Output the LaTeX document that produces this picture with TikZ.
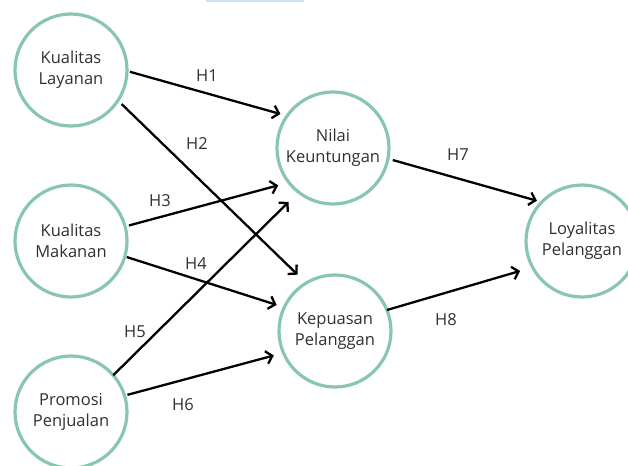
\documentclass[tikz,border=0pt]{standalone}
\usepackage{fontspec}
\setmainfont{Open Sans}
\usetikzlibrary{arrows.meta}
\definecolor{ring}{RGB}{137,199,173}
\definecolor{txt}{RGB}{48,48,48}
\definecolor{topbar}{RGB}{207,226,240}
\tikzset{
  var/.style={circle, draw=ring, line width=3.2pt, minimum size=112pt, inner sep=0pt, outer sep=0pt,
    align=center, text=txt, font=\fontsize{16.5pt}{21pt}\selectfont},
  arr/.style={line width=2.3pt, -{Straight Barb[length=6pt,width=13pt]}},
  hl/.style={text=txt, font=\fontsize{16.5pt}{20pt}\selectfont, inner sep=0pt}
}
\begin{document}
\begin{tikzpicture}[x=1pt,y=-1pt]
\useasboundingbox (0,0) rectangle (628,465);
\clip (0,0) rectangle (628,465);
\fill[topbar] (206,0) rectangle (304,2.5);
\node[var] (kl) at (71,70) {Kualitas\\Layanan};
\node[var] (km) at (71,241) {Kualitas\\Makanan};
\node[var] (pp) at (71,412) {Promosi\\Penjualan};
\node[var] (nk) at (333,148) {Nilai\\Keuntungan};
\node[var] (kp) at (335,331) {Kepuasan\\Pelanggan};
\node[var] (lp) at (582,241) {Loyalitas\\Pelanggan};
\draw[arr, shorten <=3pt, shorten >=7pt] (kl.-1) -- (nk.145);
\draw[arr, shorten <=5pt, shorten >=12pt] (kl.-33) -- (kp.121);
\draw[arr, shorten <=4pt, shorten >=11pt] (km.15) -- (nk.-142);
\draw[arr, shorten <=2pt, shorten >=8pt] (km.-16) -- (kp.155);
\draw[arr, shorten <=0pt, shorten >=14pt] (pp.41) -- (nk.-128);
\draw[arr, shorten <=3pt, shorten >=10pt] (pp.17) -- (kp.-157);
\draw[arr, shorten <=5pt, shorten >=5pt] (nk.-11) -- (lp.136);
\draw[arr, shorten <=0pt, shorten >=13pt] (kp.22) -- (lp.-152);
\node[hl] (h1) at (207,76) {H1};
\node[hl] (h2) at (197,144) {H2};
\node[hl] (h3) at (160,201) {H3};
\node[hl] (h4) at (196,264) {H4};
\node[hl] (h5) at (135,332) {H5};
\node[hl] (h6) at (183,405) {H6};
\node[hl] (h7) at (458,155) {H7};
\node[hl] (h8) at (446,320) {H8};
\end{tikzpicture}
\end{document}
